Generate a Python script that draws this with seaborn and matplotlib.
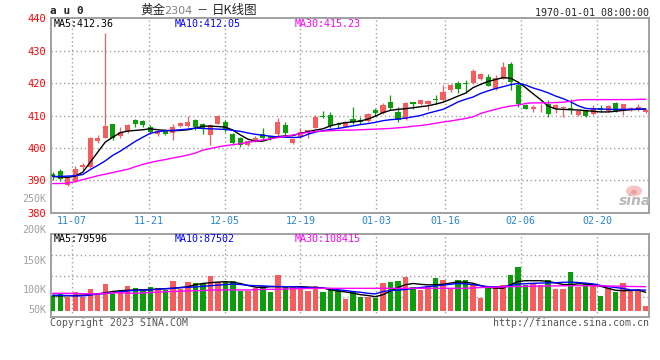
import numpy as np
import pandas as pd
import matplotlib
matplotlib.use("Agg")
import matplotlib.pyplot as plt
from matplotlib.patches import Ellipse
import seaborn as sns

# ---- daily K-line data for au2304 ----
opens = [391.8, 393.0, 388.7, 389.9, 394.1, 394.1, 402.1, 403.1, 407.3, 403.6,
         405.2, 408.5, 408.3, 406.4, 404.2, 405.6, 404.6, 406.9, 406.9, 408.5,
         407.5, 404.1, 407.5, 407.9, 404.2, 403.1, 401.0, 402.1, 404.4, 403.8,
         404.3, 407.1, 401.5, 403.4, 404.6, 406.2, 409.9, 410.1, 407.5, 406.5,
         408.9, 408.5, 408.2, 411.8, 410.8, 414.3, 411.1, 408.9, 414.1, 413.5,
         413.7, 415.1, 414.9, 417.8, 419.9, 420.1, 419.9, 421.3, 422.0, 418.1,
         421.4, 425.9, 419.3, 413.2, 412.1, 413.4, 413.7, 412.1, 412.3, 412.4,
         410.1, 411.6, 410.6, 412.3, 411.3, 413.9, 411.6, 411.9, 411.9, 411.1]
closes = [391.2, 390.3, 390.8, 393.5, 394.8, 403.0, 403.1, 406.7, 403.1, 404.8,
          407.1, 407.3, 407.1, 404.9, 405.2, 404.4, 406.4, 407.7, 407.9, 406.3,
          405.8, 407.2, 409.8, 405.4, 401.5, 400.8, 402.2, 403.2, 403.0, 403.1,
          407.9, 404.6, 402.6, 405.0, 405.4, 409.5, 409.5, 406.7, 407.2, 408.0,
          408.1, 407.9, 410.6, 410.8, 413.2, 412.3, 408.7, 413.9, 413.7, 414.7,
          414.4, 414.7, 417.2, 419.3, 418.2, 419.6, 423.7, 422.8, 419.2, 421.6,
          425.0, 420.2, 413.4, 412.1, 412.6, 413.7, 410.5, 413.2, 412.6, 411.9,
          411.4, 409.8, 412.3, 411.6, 412.9, 411.5, 413.4, 412.4, 412.6, 411.8]
highs = [392.6, 393.6, 391.0, 394.5, 395.3, 403.3, 404.0, 435.5, 407.5, 406.6,
         407.5, 408.9, 408.5, 407.1, 405.6, 405.9, 407.3, 408.1, 410.0, 409.0,
         407.6, 407.5, 410.1, 408.7, 404.6, 403.4, 402.5, 403.6, 406.2, 404.1,
         409.1, 407.9, 402.8, 406.2, 405.6, 410.1, 411.3, 411.0, 407.9, 408.2,
         412.7, 409.6, 410.8, 412.4, 413.9, 416.2, 412.6, 414.2, 414.1, 414.9,
         414.9, 416.4, 419.5, 419.7, 420.7, 420.9, 424.2, 423.0, 422.8, 422.4,
         426.6, 426.4, 419.9, 413.4, 413.2, 413.7, 414.7, 413.7, 412.9, 415.0,
         411.6, 411.6, 413.2, 413.2, 413.2, 414.2, 413.7, 412.7, 413.4, 412.1]
lows = [390.1, 389.9, 388.3, 389.5, 393.2, 393.8, 401.5, 403.0, 402.5, 403.1,
        404.6, 406.4, 406.4, 404.4, 403.7, 404.0, 402.3, 406.4, 406.6, 405.5,
        404.4, 401.0, 407.3, 405.0, 400.9, 400.3, 400.7, 401.7, 402.5, 402.5,
        403.8, 403.6, 401.3, 403.2, 403.2, 406.0, 409.3, 406.2, 406.2, 406.3,
        407.3, 407.3, 407.9, 410.0, 410.4, 411.8, 408.1, 408.5, 412.1, 413.1,
        411.6, 413.5, 414.5, 417.4, 416.8, 417.0, 419.7, 421.1, 419.1, 417.8,
        421.2, 417.9, 412.6, 411.9, 411.1, 411.1, 409.6, 410.9, 409.6, 410.5,
        409.9, 409.5, 410.3, 411.1, 411.1, 411.1, 410.3, 411.5, 411.5, 410.9]

# moving averages as drawn on the chart
ma5 = [391.2, 391.0, 390.9, 391.3, 392.5, 395.6, 398.7, 401.8, 403.3, 404.7,
       405.2, 405.4, 405.6, 405.9, 405.6, 405.4, 405.3, 405.4, 405.6, 406.1,
       406.7, 406.7, 406.6, 406.4, 405.5, 404.0, 402.7, 402.1, 402.1, 402.8,
       403.5, 403.7, 403.8, 404.5, 405.0, 405.5, 405.9, 406.8, 407.4, 407.8,
       408.0, 408.3, 408.9, 409.8, 410.9, 411.6, 411.9, 412.1, 412.4, 412.7,
       413.0, 413.5, 414.1, 415.0, 416.0, 416.9, 418.6, 419.6, 420.5, 421.1,
       421.7, 421.5, 420.3, 418.6, 416.7, 414.9, 412.9, 412.0, 411.9, 411.8,
       411.7, 411.5, 411.3, 411.1, 411.1, 411.3, 411.6, 411.8, 411.9, 412.0]
ma10 = [391.2, 391.2, 391.3, 391.4, 391.8, 393.3, 394.6, 396.0, 397.7, 399.0,
        400.5, 402.0, 403.3, 404.5, 405.0, 405.3, 405.4, 405.6, 405.8, 406.1,
        406.0, 405.9, 405.8, 405.7, 405.4, 405.1, 404.6, 404.2, 403.9, 403.6,
        403.4, 403.3, 403.2, 403.3, 404.2, 404.9, 405.3, 405.7, 406.0, 406.4,
        406.8, 407.2, 407.5, 407.9, 408.4, 408.7, 408.9, 409.2, 409.6, 410.0,
        410.7, 411.3, 411.9, 413.0, 414.2, 415.0, 415.7, 416.8, 417.6, 418.3,
        418.9, 419.5, 419.9, 419.4, 418.5, 417.8, 417.0, 416.0, 415.2, 414.2,
        413.0, 412.2, 412.0, 412.0, 411.9, 411.9, 411.9, 411.9, 412.0, 412.0]
ma30 = [389.0, 389.0, 389.1, 389.6, 390.2, 390.8, 391.4, 391.9, 392.4, 392.9,
        393.4, 394.2, 394.9, 395.5, 396.0, 396.4, 396.9, 397.3, 397.8, 398.4,
        399.3, 399.8, 400.3, 400.7, 401.0, 401.3, 401.7, 402.1, 402.5, 402.8,
        403.2, 403.6, 404.0, 404.4, 404.8, 405.1, 405.2, 405.3, 405.4, 405.5,
        405.5, 405.6, 405.7, 405.8, 405.9, 406.0, 406.2, 406.4, 406.7, 406.9,
        407.2, 407.6, 408.0, 408.3, 408.7, 409.1, 409.6, 410.6, 411.3, 411.9,
        412.5, 412.9, 413.2, 413.7, 413.9, 413.9, 413.9, 414.0, 414.1, 414.4,
        414.8, 414.9, 414.9, 414.9, 414.9, 414.9, 414.9, 414.9, 415.0, 415.0]

# volume, thousands of lots
volume = [87, 92, 85, 98, 85, 104, 89, 117, 92, 100,
          112, 107, 102, 110, 107, 102, 124, 104, 122, 119,
          117, 138, 123, 123, 124, 100, 100, 108, 113, 98,
          139, 110, 110, 108, 100, 112, 98, 106, 102, 79,
          99, 85, 85, 83, 120, 123, 124, 135, 110, 102,
          113, 133, 127, 106, 127, 127, 117, 83, 110, 113,
          114, 139, 160, 114, 118, 114, 127, 104, 104, 148,
          110, 120, 114, 88, 108, 98, 120, 102, 104, 62]
vol_ma5 = [87, 87, 87.5, 88, 89, 90.5, 92, 95, 98, 100,
           101, 102, 102.5, 103, 104, 105, 106, 108, 110, 115,
           118, 120, 121.5, 122.5, 121, 118, 113, 109, 108, 110,
           110, 110, 110, 110, 109, 108, 107, 102, 99, 97,
           94, 90, 88, 85, 90, 99, 108, 115, 118, 116,
           114.5, 115, 116, 119, 122, 121, 118.5, 113, 108, 106.5,
           106, 115, 123, 125, 125, 125, 123, 119.5, 115.5, 115,
           117.5, 117, 114.5, 111, 106, 101, 100, 100.5, 101.5, 96]
vol_ma10 = [89, 88.5, 88, 87, 87, 89, 91.5, 93, 94.5, 97,
            99.5, 101, 101.5, 102, 103.5, 105, 106, 107.5, 108.5, 109.5,
            111, 112.5, 114, 115.5, 116.5, 115.5, 113.5, 112.5, 112, 111,
            110.5, 110, 110, 109, 108, 107.5, 106.5, 105, 102.5, 100.5,
            98, 96, 93.5, 92, 98, 100.5, 101.5, 103, 105.5, 108,
            110, 112, 114, 116, 118, 117, 115, 112.5, 110, 110,
            110, 113, 116.5, 117.5, 118.5, 119, 119.5, 120, 121, 121.5,
            120.5, 119, 117, 113, 110, 108, 105.5, 102, 101.5, 101.5]
vol_ma30 = [93.5, 93.5, 93.5, 93, 92.5, 92, 92, 93.5, 95, 94.5,
            94, 93.5, 94.5, 95.5, 96.5, 97.5, 98, 98.5, 99.5, 100,
            100.5, 101.5, 101.8, 101.8, 101.8, 101.8, 101.8, 102.5, 103.3, 103.4,
            103.4, 104, 104.8, 105.2, 105.5, 105.8, 106, 106, 106, 106,
            106, 106, 106, 106, 106, 106, 106, 106, 106, 106,
            106, 106, 106, 106, 106, 106, 107, 107.8, 108.5, 109,
            109.5, 110, 110.5, 111, 111.3, 111.6, 111.8, 112, 112.3, 112.5,
            112.6, 112.5, 112.3, 112, 111.8, 111.5, 111, 110.6, 110.3, 110]

date_labels = ["11-07", "11-21", "12-05", "12-19", "01-03", "01-16", "02-06", "02-20"]
price_ticks = [380, 390, 400, 410, 420, 430, 440]
vol_labels = ["250K", "200K", "150K", "100K", "50K"]
price_ma_text = ["MA5:412.36", "MA10:412.05", "MA30:415.23"]
vol_ma_text = ["MA5:79596", "MA10:87502", "MA30:108415"]

# ---- layout / style ----
W, H = 660, 360
RED, GREEN = "#f65c5c", "#0c9c0c"
MA_COLORS = ["black", "#0000ff", "#ff00ff"]
GRID = dict(color="#a0a0a0", linestyle=(0, (1, 2)), linewidth=1.0, zorder=1)
VOL_BASE = 50
VOL_LIM = (33.5, 241)
tick_x = [2.6, 12.8, 22.9, 33.0, 43.1, 52.3, 62.35, 72.5]
ma_text_x = [54, 175, 295]
vol_label_y = [199, 230, 260.7, 290, 310]

df = pd.DataFrame({"open": opens, "high": highs, "low": lows, "close": closes,
                   "ma5": ma5, "ma10": ma10, "ma30": ma30, "vol": volume,
                   "vma5": vol_ma5, "vma10": vol_ma10, "vma30": vol_ma30})
df["idx"] = np.arange(len(df))
colors = np.where(df["close"] >= df["open"], RED, GREEN)

sns.set_style("white")
plt.rcParams["font.family"] = ["DejaVu Sans Mono", "Noto Sans CJK SC"]

fig = plt.figure(figsize=(6.6, 3.6), dpi=100)


def box(l, t, r, b):
    return [l / W, 1 - b / H, (r - l) / W, (b - t) / H]


def ptext(x, y, s, **kw):
    kw.setdefault("va", "center")
    fig.text(x / W, 1 - y / H, s, **kw)


ax1 = fig.add_axes(box(50.7, 18.3, 649, 212.7))
ax2 = fig.add_axes(box(50.7, 234.3, 649, 317.3))

# dotted grid, drawn by hand so it sits under the marks
vol_grid_y = np.linspace(*VOL_LIM, 5)[1:-1]
for x in tick_x:
    ax1.axvline(x, **GRID)
    ax2.axvline(x, **GRID)
for y in price_ticks[1:-1]:
    ax1.axhline(y, **GRID)
for y in vol_grid_y:
    ax2.axhline(y, **GRID)

# candles
ax1.vlines(df["idx"], df["low"], df["high"], colors=colors, lw=0.9, zorder=3)
body = (df["close"] - df["open"]).abs().clip(lower=0.25)
ax1.bar(df["idx"], body, bottom=df[["open", "close"]].min(axis=1),
        width=0.68, color=colors, edgecolor=colors, linewidth=0, zorder=3)
for col, c in zip(["ma5", "ma10", "ma30"], MA_COLORS):
    sns.lineplot(data=df, x="idx", y=col, ax=ax1, color=c, lw=1.0, zorder=4)

# volume
ax2.bar(df["idx"], df["vol"] - VOL_BASE, bottom=VOL_BASE, width=0.72,
        color=colors, edgecolor=colors, linewidth=0, zorder=3)
for col, c in zip(["vma5", "vma10", "vma30"], MA_COLORS):
    sns.lineplot(data=df, x="idx", y=col, ax=ax2, color=c, lw=1.0, zorder=4)

for ax in (ax1, ax2):
    ax.set_xlim(-0.27, 79.44)
    ax.set_xticks(tick_x)
    ax.grid(False)
    ax.tick_params(length=0)
    ax.set_xlabel("")
    ax.set_ylabel("")
    for s in ax.spines.values():
        s.set_color("#a0a0a0")
        s.set_linewidth(1.4)

ax1.set_ylim(380, 440)
ax1.set_yticks(price_ticks)
ax1.set_yticklabels([str(t) for t in price_ticks], color="red", fontsize=7.5)
ax1.tick_params(axis="y", pad=3)
ax1.set_xticklabels(date_labels, color="#2a86d0", fontsize=7.2)
ax1.tick_params(axis="x", pad=2.5)

ax2.set_ylim(*VOL_LIM)
ax2.set_yticks([])
ax2.set_xticklabels([])

# MA readouts
for s, x, c in zip(price_ma_text, ma_text_x, MA_COLORS):
    ptext(x, 24, s, color=c, fontsize=7.2)
for s, x, c in zip(vol_ma_text, ma_text_x, MA_COLORS):
    ptext(x, 238.5, s, color=c, fontsize=7.2)

# volume axis labels
for s, y in zip(vol_labels, vol_label_y):
    ptext(46.5, y, s, ha="right", color="#a0a0a0", fontsize=7.2)

# header
ptext(49.5, 11.5, "a u 0", fontsize=8, weight="bold")
ptext(140, 10.5, "黄金", fontsize=9, family="Noto Sans CJK SC")
ptext(164, 11, "2304", fontsize=8, color="#808080", family="DejaVu Sans")
ptext(196, 10.5, "－", fontsize=8, family="Noto Sans CJK SC")
ptext(212, 10.5, "日K线图", fontsize=9, family="Noto Sans CJK SC")
ptext(649, 12.5, "1970-01-01 08:00:00", ha="right", fontsize=7.2)

# footer
ptext(50, 323.5, "Copyright 2023 SINA.COM", color="#555555", fontsize=7.1)
ptext(649, 323.5, "http://finance.sina.com.cn", ha="right", color="#555555", fontsize=7.1)

# sina watermark
fig.add_artist(Ellipse((634 / W, 1 - 191 / H), 16 / W, 11 / H,
                       transform=fig.transFigure, fc="#f6c4c4", ec="none"))
fig.add_artist(Ellipse((634 / W, 1 - 192 / H), 6 / W, 5 / H,
                       transform=fig.transFigure, fc="#e8a0a0", ec="none"))
ptext(651, 201, "sina", ha="right", color="#b8b8b8", fontsize=10,
      style="italic", weight="bold", family="DejaVu Sans")

fig.savefig("out.png", dpi=100)
plt.close()
